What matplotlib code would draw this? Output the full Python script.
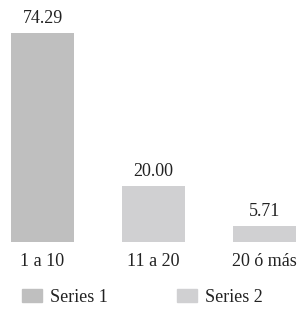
import matplotlib.pyplot as plt

categorias = ['1 a 10', '11 a 20', '20 ó más']
valores = [74.29, 20.00, 5.71]
series = ['Series 1', 'Series 2', 'Series 2']
etiquetas = ['74.29', '20.00', '5.71']

color_s1 = '#bfbfbf'
color_s2 = '#d0d0d2'
colores = [color_s1 if s == 'Series 1' else color_s2 for s in series]

plt.rcParams['font.family'] = ['Liberation Serif', 'DejaVu Serif']

fig = plt.figure(figsize=(3.0, 3.18), dpi=100)
ax = fig.add_axes([0, 76 / 318, 1, 242 / 318])

x = list(range(len(categorias)))
barras = ax.bar(x, valores, width=0.57, color=colores)

ax.set_xlim(-42.5 / 111, (300 - 42.5) / 111)
ax.set_ylim(0, 86)

for b, t in zip(barras, etiquetas):
    ax.annotate(t, (b.get_x() + b.get_width() / 2, b.get_height()),
                xytext=(0, 4), textcoords='offset points',
                ha='center', va='bottom', fontsize=13, color='#222222')

ax.set_xticks(x)
ax.set_xticklabels(categorias, fontsize=13, color='#222222')
ax.tick_params(axis='x', length=0, pad=8)
ax.set_yticks([])
for s in ax.spines.values():
    s.set_visible(False)

h1 = plt.Rectangle((0, 0), 1, 1, color=color_s1)
h2 = plt.Rectangle((0, 0), 1, 1, color=color_s2)
fig.legend([h1, h2], ['Series 1', 'Series 2'], loc='center',
           bbox_to_anchor=(0.475, 21 / 318), ncol=2, frameon=False,
           fontsize=13, handlelength=1.1, handleheight=0.72,
           columnspacing=3.8, handletextpad=0.45, labelcolor='#222222')

fig.savefig('out.png', dpi=100)
